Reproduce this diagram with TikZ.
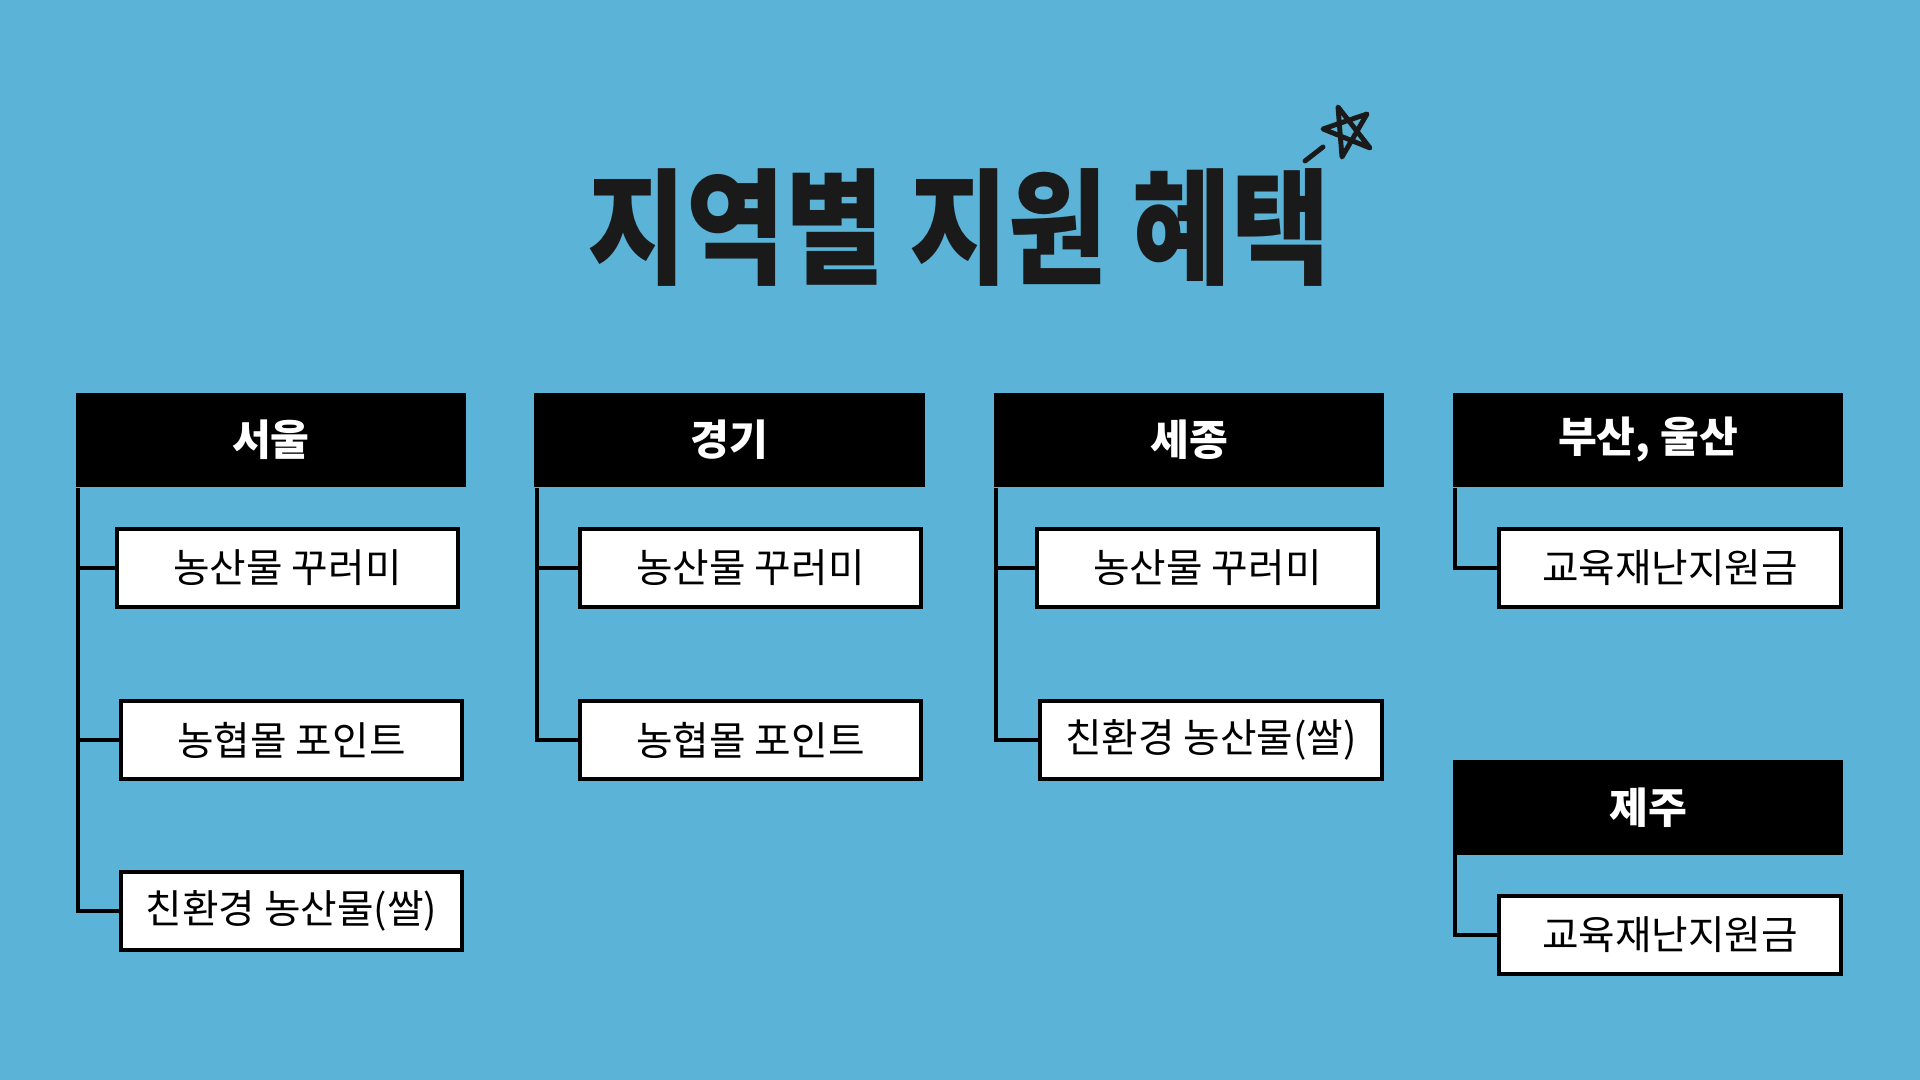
\documentclass[tikz,border=0pt]{standalone}
\usepackage{fontspec}
\setmainfont{Noto Sans CJK KR}
\definecolor{skyblue}{RGB}{91,179,215}
\definecolor{inkgrey}{RGB}{26,26,26}
\usetikzlibrary{positioning,calc}

\begin{document}
\begin{tikzpicture}[x=0.01cm,y=-0.01cm,
    region/.style={fill=black,text=white,minimum width=3.9cm,minimum height=0.94cm,
                   inner sep=0pt,font=\fontsize{12}{14}\selectfont\bfseries},
    benefit/.style={draw=black,fill=white,line width=1.14pt,minimum width=3.41cm,
                    minimum height=0.77cm,inner sep=0pt,font=\fontsize{11.3}{13}\selectfont},
    branch/.style={line width=1.14pt,black}]
  \fill[skyblue] (0,0) rectangle (1920,1080);
  \useasboundingbox (0,0) rectangle (1920,1080);

  % title and star
  \node[text=inkgrey,font=\fontsize{34}{40}\selectfont\bfseries] (title) at (959,227)
    {\scalebox{0.9}[1.05]{지역별 지원 혜택}};
  \draw[line width=1.4pt,inkgrey,line join=round,line cap=round]
    (1338,107) -- (1370,148) -- (1323,129) -- (1367,114) -- (1342,157) -- cycle;
  \draw[line width=1.4pt,inkgrey,line cap=round] (1305,161) -- (1323,147);

  % regions
  \node[region] (seoul) at (271,440) {서울};
  \node[region] (gyeonggi) at (729.5,440) {경기};
  \node[region] (sejong) at (1189,440) {세종};
  \node[region] (busan) at (1648,440) {부산, 울산};
  \node[region] (jeju) at (1648,807.5) {제주};

  % benefits
  \node[benefit] (s1) at (287.5,568) {농산물 꾸러미};
  \node[benefit] (s2) at (291.5,740) {농협몰 포인트};
  \node[benefit] (s3) at (291.5,911) {친환경 농산물(쌀)};
  \node[benefit] (g1) at (750.5,568) {농산물 꾸러미};
  \node[benefit] (g2) at (750.5,740) {농협몰 포인트};
  \node[benefit] (j1) at (1207.5,568) {농산물 꾸러미};
  \node[benefit] (j2) at (1211,740) {친환경 농산물(쌀)};
  \node[benefit] (b1) at (1670,568) {교육재난지원금};
  \node[benefit] (e1) at (1670,935) {교육재난지원금};

  % branches
  \foreach \top/\kids in {seoul/{s1,s2,s3},gyeonggi/{g1,g2},sejong/{j1,j2},busan/{b1},jeju/{e1}}{
    \coordinate (spine) at ($(\top.south west)+(3,0)$);
    \foreach \kid in \kids
      \draw[branch] (\kid.west) -| (spine);
  }
\end{tikzpicture}
\end{document}
